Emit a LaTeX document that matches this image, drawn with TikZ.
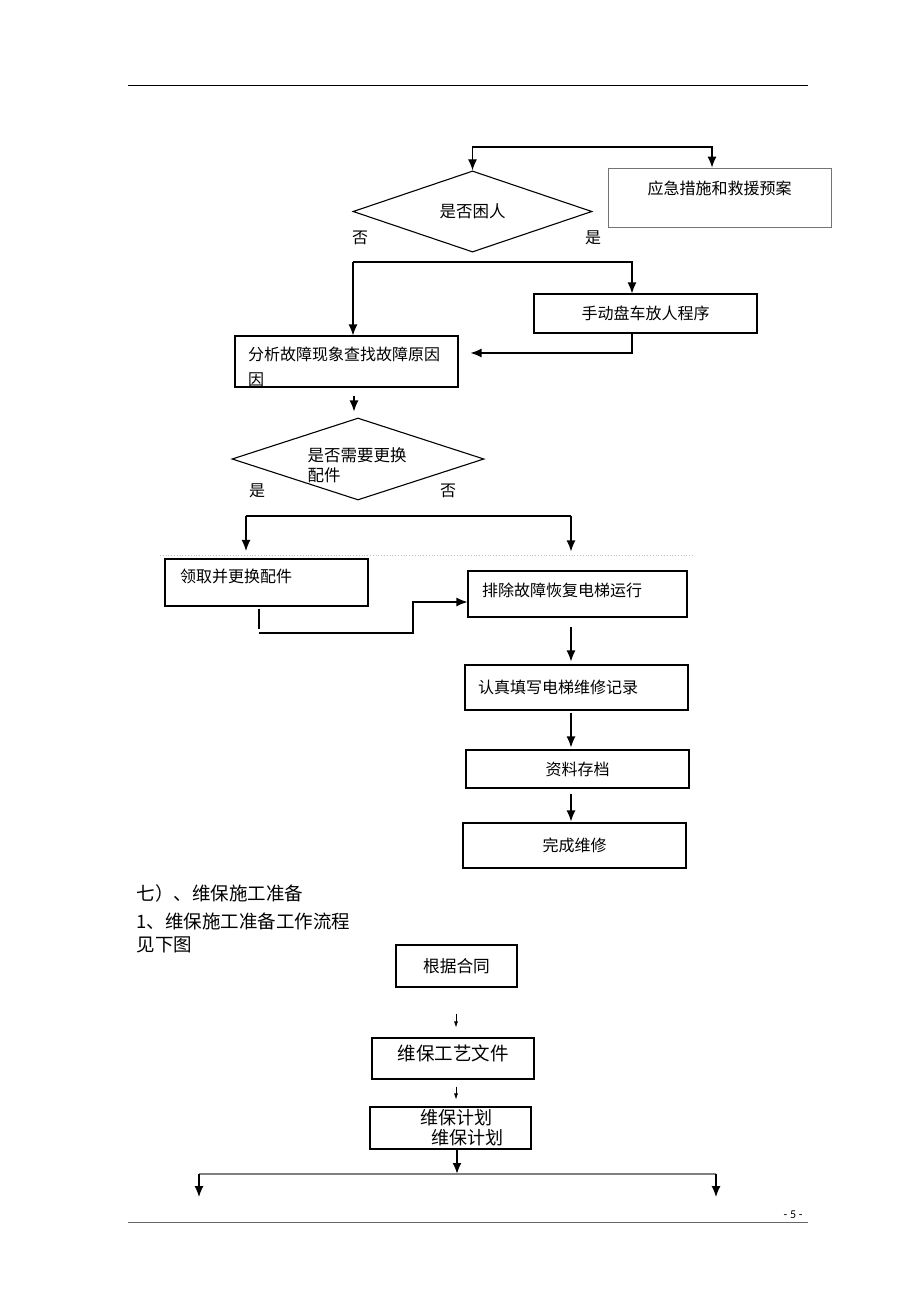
\documentclass[tikz,border=0pt]{standalone}
\usepackage{fontspec}
\setmainfont{Noto Sans CJK SC}
\newfontfamily\pagefont{Carlito}
\usetikzlibrary{shapes.geometric,arrows.meta}
\tikzset{box/.style={draw, line width=1.1pt, inner sep=0pt,
  font=\fontsize{16}{25}\selectfont}}
\tikzset{choice/.style={diamond, draw, line width=1.1pt, inner sep=0pt,
  font=\fontsize{16.5}{20}\selectfont}}
\tikzset{flow/.style={line width=1.2pt, -{Latex[length=11pt,width=9pt]}}}
\tikzset{flowboth/.style={line width=1.2pt,
  {Latex[length=11pt,width=9pt]}-{Latex[length=11pt,width=9pt]}}}
\tikzset{smallflow/.style={line width=0.7pt, -{Latex[length=6pt,width=4pt]}}}
\tikzset{ans/.style={font=\fontsize{16}{16}\selectfont}}
\tikzset{head/.style={anchor=west, font=\fontsize{18.5}{20}\selectfont}}

\begin{document}
\begin{tikzpicture}[x=1pt, y=-1pt]
\useasboundingbox (0,0) rectangle (920,1302);

\draw[line width=1pt] (128,85) -- (808,85);

\node[box, draw=black!55, line width=0.8pt, minimum width=223pt, minimum height=59pt, text depth=20pt] (rescue) at (719.5,197.5) {应急措施和救援预案};
\node[choice, minimum width=239pt, minimum height=77pt] (trapped) at (472.5,211.5) {是否困人};
\node[ans] (trapno) at (360,238) {否};
\node[ans] (trapyes) at (593,238) {是};
\coordinate (loop) at (712,147);
\draw[flowboth] (trapped.north) -- (trapped.north |- loop) -- (loop) -- (loop |- rescue.north);

\node[box, minimum width=223pt, minimum height=39pt] (manual) at (645.5,313.5) {手动盘车放人程序};
\node[box, minimum width=223pt, minimum height=51pt, align=left, text width=197pt] (analyse) at (346.5,361.5) {\rule{0pt}{24pt}分析故障现象查找故障原因\\因};
\coordinate (fork1) at (353,262);
\draw[flow] (fork1) -- (fork1 |- analyse.north);
\draw[flow] (fork1) -| ([xshift=-13.5pt]manual.north);
\draw[flow] ([xshift=-13.5pt]manual.south) |- ([shift={(12,-8.5)}]analyse.east);

\node[choice, minimum width=252pt, minimum height=82pt] (parts) at (358,459) {};
\node[align=left, text width=99pt, font=\fontsize{16.5}{20}\selectfont] (partstext) at (357,465) {是否需要更换\\配件};
\node[ans] (partsyes) at (257,491) {是};
\node[ans] (partsno) at (448,491) {否};
\draw[flow] ([shift={(7.5,8)}]analyse.south) -- ([shift={(-4,-6)}]parts.north);

\draw[black!25, dotted, line width=0.8pt] (160,555) -- (693,555);

\node[box, minimum width=203pt, minimum height=47pt, align=left, text width=173pt, text depth=14pt] (takeparts) at (266.5,582.5) {领取并更换配件};
\node[box, minimum width=219pt, minimum height=46pt, align=left, text width=191pt, text depth=9pt] (repair) at (577.5,594) {排除故障恢复电梯运行};
\coordinate (fork2) at (246,516);
\coordinate (fork2r) at (571,516);
\draw[line width=1.2pt] (fork2) -- (fork2r);
\draw[flow] (fork2) -- ([shift={(0,-7.5)}]fork2 |- takeparts.north);
\draw[flow] (fork2r) -- ([shift={(0,-19)}]fork2r |- repair.north);

\draw[line width=1.1pt] ([shift={(-7.5,2)}]takeparts.south) -- ++(0,20);
\coordinate (back1) at (259,633);
\coordinate (back2) at (413,633);
\draw[flow] (back1) -- (back2) |- ([shift={(0,8)}]repair.west);

\node[box, minimum width=223pt, minimum height=45pt, align=left, text width=197pt] (record) at (576.5,687.5) {认真填写电梯维修记录};
\node[box, minimum width=223pt, minimum height=38pt] (archive) at (577.5,769) {资料存档};
\node[box, minimum width=223pt, minimum height=45pt] (done) at (574.5,845.5) {完成维修};
\draw[flow] ([shift={(-6.5,9)}]repair.south) -- ([shift={(-5.5,-3)}]record.north);
\draw[flow] ([shift={(-5.5,2)}]record.south) -- ([shift={(-6.5,-2)}]archive.north);
\draw[flow] ([shift={(-6.5,5)}]archive.south) -- ([shift={(-3.5,-1)}]done.north);

\node[head] (sect) at (133,893) {七）、维保施工准备};
\node[head] (subsect) at (133,921) {1、维保施工准备工作流程};
\node[head] (seebelow) at (133,945) {见下图};

\node[box, minimum width=121pt, minimum height=42pt, font=\fontsize{16.7}{20}\selectfont] (contract) at (456.5,966) {根据合同};
\node[box, minimum width=162pt, minimum height=41pt, font=\fontsize{18.5}{20}\selectfont, text depth=12pt] (craft) at (453,1058.5) {维保工艺文件};
\node[box, minimum width=161pt, minimum height=42pt, font=\fontsize{18}{20}\selectfont, align=left, text width=141pt] (plan) at (450.5,1128) {\hspace*{40pt}维保计划\\\hspace*{51pt}维保计划};
\draw[smallflow] ([shift={(-0.5,26)}]contract.south) -- ([shift={(3,-10)}]craft.north);
\draw[smallflow] ([shift={(3,7)}]craft.south) -- ([shift={(5.5,-7)}]plan.north);

\coordinate (fork3) at (457,1174);
\coordinate (leftout) at (199,1174);
\coordinate (rightout) at (716,1174);
\coordinate (leftend) at (199,1197);
\coordinate (rightend) at (716,1197);
\draw[black!50, line width=1.5pt] (leftout) -- (rightout);
\draw[line width=2pt, -{Latex[length=11pt,width=9pt]}] ([xshift=6.5pt]plan.south) -- (fork3);
\draw[flow] (leftout) -- (leftend);
\draw[flow] (rightout) -- (rightend);

\draw[black!60, line width=1pt] (128,1222) -- (808,1222);
\node[anchor=base east, font=\pagefont\fontsize{12}{12}\selectfont] (pagenum) at (806,1218) {- 5 -};

\end{tikzpicture}
\end{document}
